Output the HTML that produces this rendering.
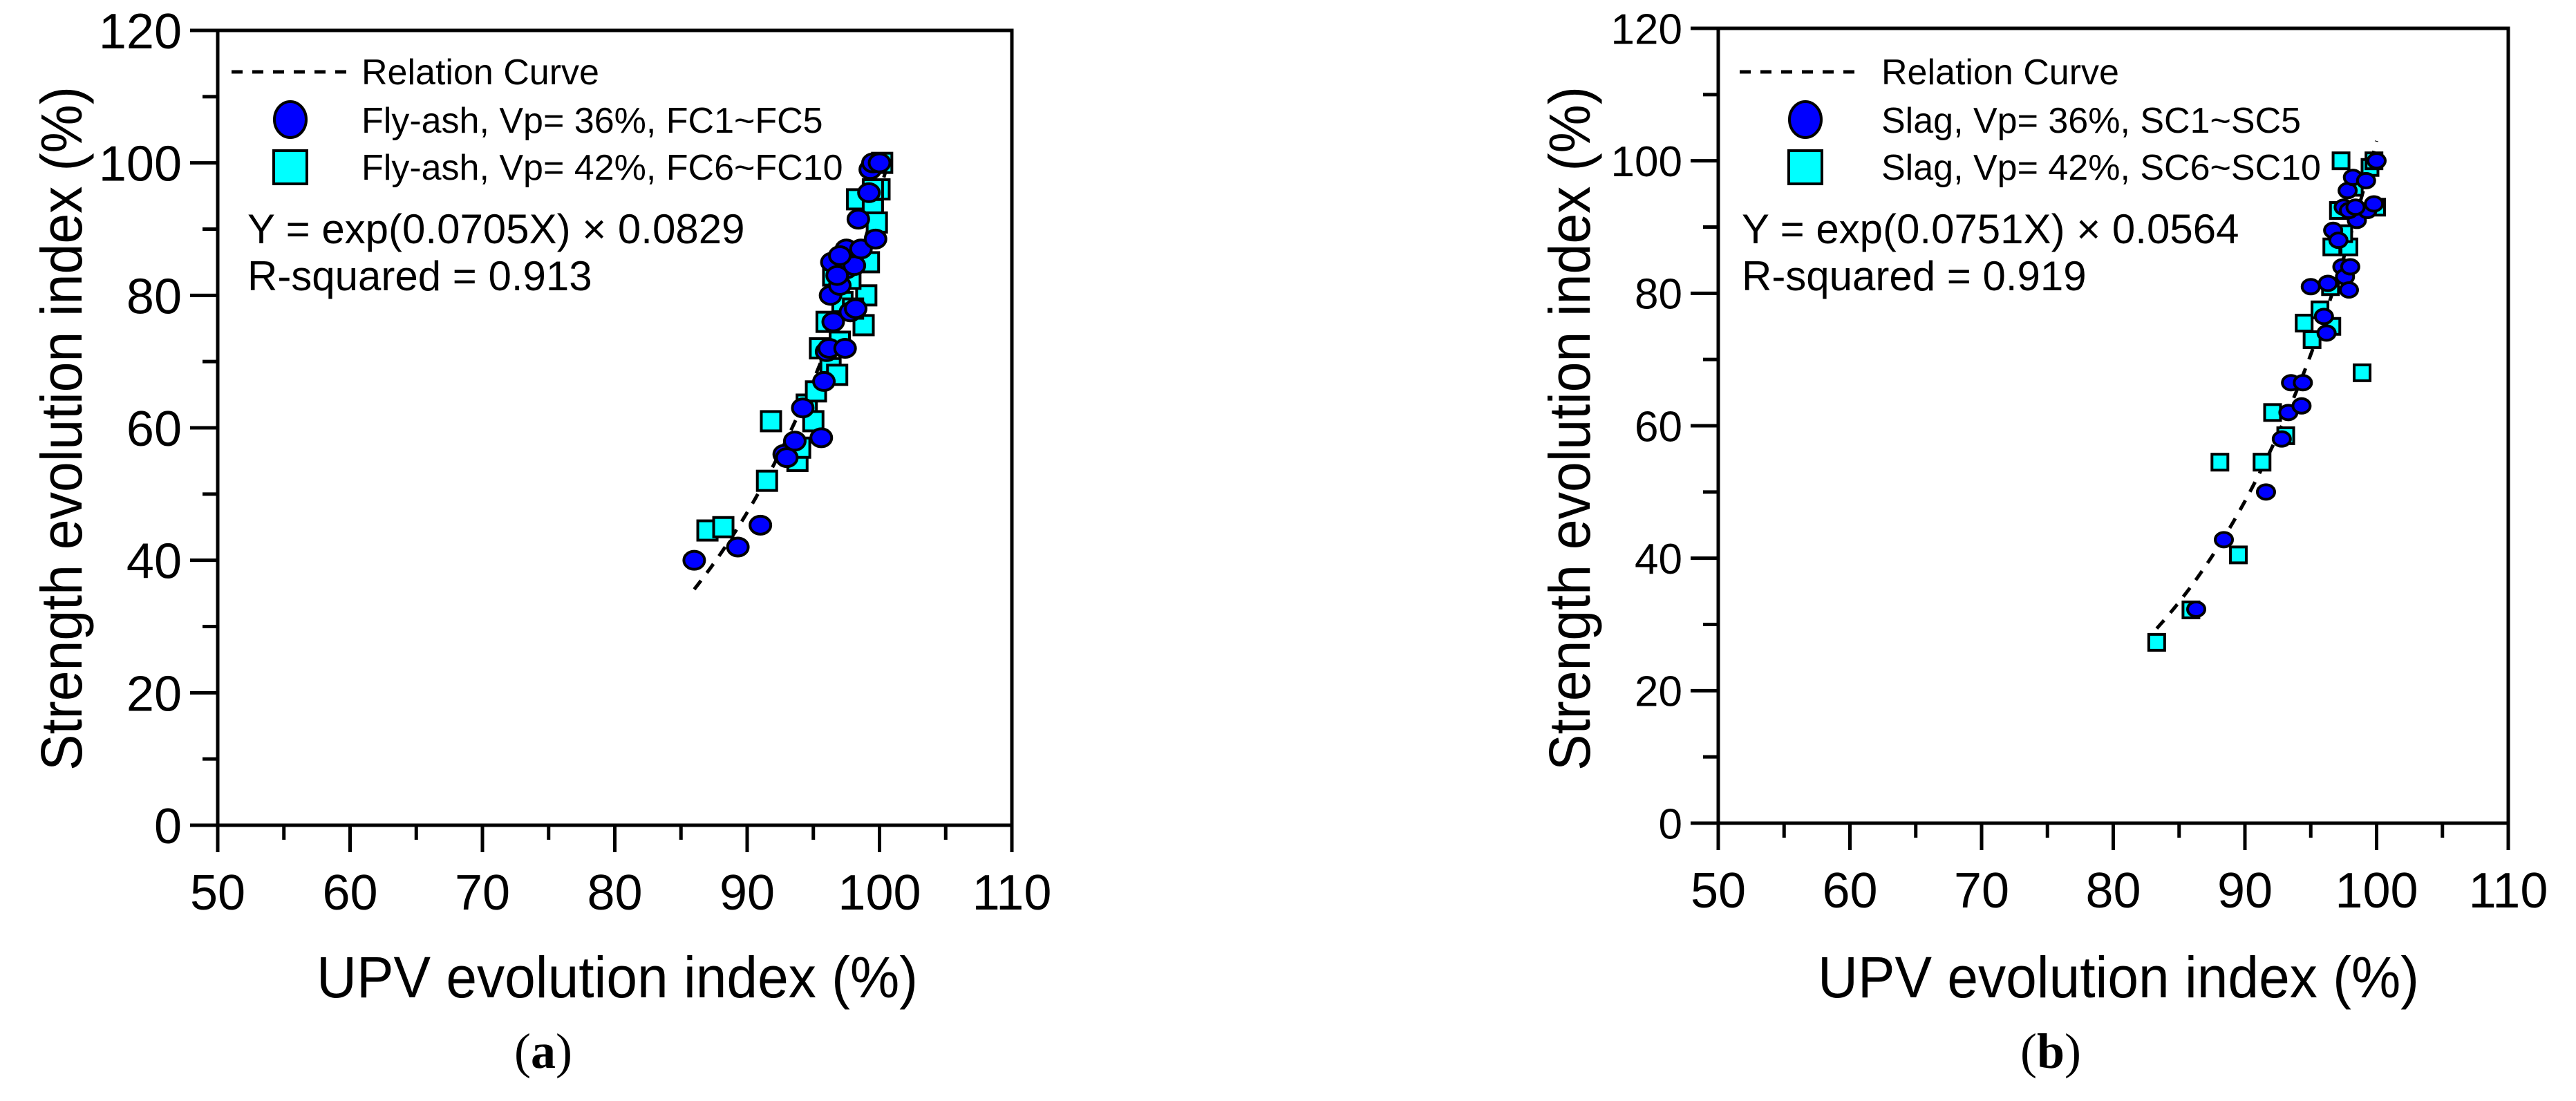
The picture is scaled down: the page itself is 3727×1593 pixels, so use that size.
<!DOCTYPE html>
<html><head><meta charset="utf-8"><style>
html,body{margin:0;padding:0;background:#fff;}
svg{display:block;font-family:"Liberation Sans",Arial,sans-serif;}
</style></head>
<body>
<svg id="fig" width="3727" height="1593" viewBox="0 0 3727 1593" xmlns="http://www.w3.org/2000/svg">
<rect width="3727" height="1593" fill="#fff"/>
</svg>
<script>
// ---- Data: panel (a) fly-ash ----
const aCircleX = [86,89.3,91,92.8,93,93.6,94.2,95.6,95.8,96,96.2,96.5,96.3,96.4,97,97.5,97.4,97.8,97.5,98.1,98.4,98.6,99.2,99.3,99.5,100,99.7,97,96.8,98.2];
const aCircleY = [40,42,45.3,56,55.5,58,63,58.5,67,71.5,72,76,80,85,81.5,87,72,77.5,84,84.5,91.5,87,95.5,99,100,100,88.5,86,83,78];
const aSquareX = [87,88.2,91.5,91.8,93.8,94,94.5,95,95.2,95.5,96,96.3,96.8,96.5,97,97.2,98.3,98.8,99,99.2,99.5,99.8,100,100.2,98,97.8,99.5];
const aSquareY = [44.5,45,52,61,55,57,63.5,61,65.5,72,76,69,68,83,73,79,94.5,75.5,80,85,93,91,96,100,78,82.5,96];
const aFit = [0.0705, 0.0829]; const aFitRange = [86, 100.6];
// ---- Data: panel (b) slag ----
const bCircleX = [86.3,88.4,91.6,92.8,93.3,93.5,94.4,94.3,95,96,96.2,96.3,96.7,97.1,97.4,97.6,97.9,98,97.5,97.8,98.2,98.5,99.2,99.3,99.8,100,97.9,98.4];
const bCircleY = [32.3,42.8,50,58,62,66.5,66.5,63,81,76.5,74,81.5,89.5,88,84,82.5,80.5,84,93,95.5,97.5,91,97,92.5,93.5,100,92.5,93];
const bSquareX = [83.3,85.9,88.1,89.5,91.3,92.1,93.1,94.5,95.1,95.7,96.6,96.6,97.3,97.1,97.9,97.5,98.9,99.5,99.8,100,96.5,98.3];
const bSquareY = [27.3,32.2,54.5,40.5,54.5,62,58.5,75.5,73,77.5,75,87,100,92.5,87,89,68,99,100,93,81,96];
const bFit = [0.0751, 0.0564]; const bFitRange = [83.3, 100];
const xTicks = [50,60,70,80,90,100,110];
const yTicks = [0,20,40,60,80,100,120];

const svg = document.getElementById('fig');
const NS = 'http://www.w3.org/2000/svg';
function mk(tag, attrs, parent){const e=document.createElementNS(NS,tag);for(const k in attrs)e.setAttribute(k,attrs[k]);(parent||svg).appendChild(e);return e;}

function panel(o){
  const g = mk('g',{});
  
  
  const X = v => o.x0 + (v-50)/60*(o.x1-o.x0);
  const Y = v => o.y0 - v/120*(o.y0-o.y1);
  const fr = mk('rect',{x:o.x0,y:o.y1,width:o.x1-o.x0,height:o.y0-o.y1,fill:'none',stroke:'#000','stroke-width':5},g);
   
  for(let v=0;v<=120;v+=10){
    const major = v%20===0;
    const t = mk('line',{x1:o.x0-(major?40:22),x2:o.x0,y1:Y(v),y2:Y(v),stroke:'#000','stroke-width':5},g);
     
  }
  yTicks.forEach(v=>{
    const t = mk('text',{x:o.x0-52,y:Y(v)+o.yfs*0.36,'text-anchor':'end','font-size':o.yfs},g);
    t.textContent=v;
     
  });
  for(let v=50;v<=110;v+=5){
    const major = v%10===0;
    const t = mk('line',{x1:X(v),x2:X(v),y1:o.y0,y2:o.y0+(major?39:21),stroke:'#000','stroke-width':5},g);
     
  }
  xTicks.forEach(v=>{
    const t = mk('text',{x:X(v),y:o.y0+122,'text-anchor':'middle','font-size':72},g);
    t.textContent=v;
     
  });
  const yt = mk('text',{x:0,y:0,'text-anchor':'middle','font-size':84,transform:`translate(${o.ytx},620) rotate(-90)`,textLength:990,lengthAdjust:'spacingAndGlyphs'},g);
  yt.textContent='Strength evolution index (%)';
   
  const xt = mk('text',{x:o.xtx,y:1443,'text-anchor':'middle','font-size':84,textLength:870,lengthAdjust:'spacingAndGlyphs'},g);
  xt.textContent='UPV evolution index (%)';
   
  const pl = mk('text',{x:o.ptx,y:1545,'text-anchor':'middle','font-size':72,'font-family':'"Liberation Serif",serif'},g);
  pl.innerHTML = '(<tspan font-weight="bold">'+o.letter+'</tspan>)';
   
  let d='';
  for(let i=0;i<=60;i++){const xv=o.fitR[0]+(o.fitR[1]-o.fitR[0])*i/60;const yv=Math.exp(o.fit[0]*xv)*o.fit[1];d+=(i?'L':'M')+X(xv).toFixed(1)+','+Y(yv).toFixed(1);}
  const fc = mk('path',{d:d,fill:'none',stroke:'#000','stroke-width':5,'stroke-dasharray':'16,14'},g);
   
  const s=o.ms;
  o.sx.forEach((xv,i)=>{
    const r = mk('rect',{x:X(xv)-s/2,y:Y(o.sy[i])-s/2,width:s,height:s,fill:'#00ffff',stroke:'#000','stroke-width':4},g);
     
  });
  o.cx.forEach((xv,i)=>{
    const c = mk('ellipse',{cx:X(xv),cy:Y(o.cy[i]),rx:s/2+1,ry:s/2-1,fill:'#0000ff',stroke:'#000','stroke-width':4},g);
     
  });
  const lg = mk('g',{},g);
   
  const ll = mk('line',{x1:o.lx,x2:o.lx+170,y1:104,y2:104,stroke:'#000','stroke-width':5,'stroke-dasharray':'16,14'},lg);
   
  const e1 = mk('ellipse',{cx:o.lmx,cy:173,rx:23,ry:26,fill:'#0000ff',stroke:'#000','stroke-width':4},lg);
   
  const r1 = mk('rect',{x:o.lmx-24,y:218,width:48,height:48,fill:'#00ffff',stroke:'#000','stroke-width':4},lg);
   
  [[o.l0,122],[o.l1,192],[o.l2,260]].forEach(([txt,y])=>{
    const t = mk('text',{x:o.ltx,y:y,'font-size':52},lg);
    t.textContent=txt;
     
  });
  const eq = mk('text',{x:o.ex,y:352,'font-size':60},g);
  eq.textContent=o.eq;
   
  const rs = mk('text',{x:o.ex,y:420,'font-size':60},g);
  rs.textContent=o.r2;
   
}

panel({name:'panel-a',x0:315,x1:1464,y0:1194,y1:44,yfs:72,ytx:118,xtx:893,ptx:786,letter:'a',
  fit:aFit,fitR:aFitRange,cx:aCircleX,cy:aCircleY,sx:aSquareX,sy:aSquareY,ms:28,
  lx:335,lmx:420,ltx:523,l0:'Relation Curve',l1:'Fly-ash, Vp= 36%, FC1~FC5',l2:'Fly-ash, Vp= 42%, FC6~FC10',
  ex:358,eq:'Y = exp(0.0705X) × 0.0829',r2:'R-squared = 0.913'});
panel({name:'panel-b',x0:2486,x1:3629,y0:1191,y1:41,yfs:62,ytx:2300,xtx:3065,ptx:2967,letter:'b',
  fit:bFit,fitR:bFitRange,cx:bCircleX,cy:bCircleY,sx:bSquareX,sy:bSquareY,ms:23,
  lx:2517,lmx:2612,ltx:2722,l0:'Relation Curve',l1:'Slag, Vp= 36%, SC1~SC5',l2:'Slag, Vp= 42%, SC6~SC10',
  ex:2520,eq:'Y = exp(0.0751X) × 0.0564',r2:'R-squared = 0.919'});
</script>
</body></html>
